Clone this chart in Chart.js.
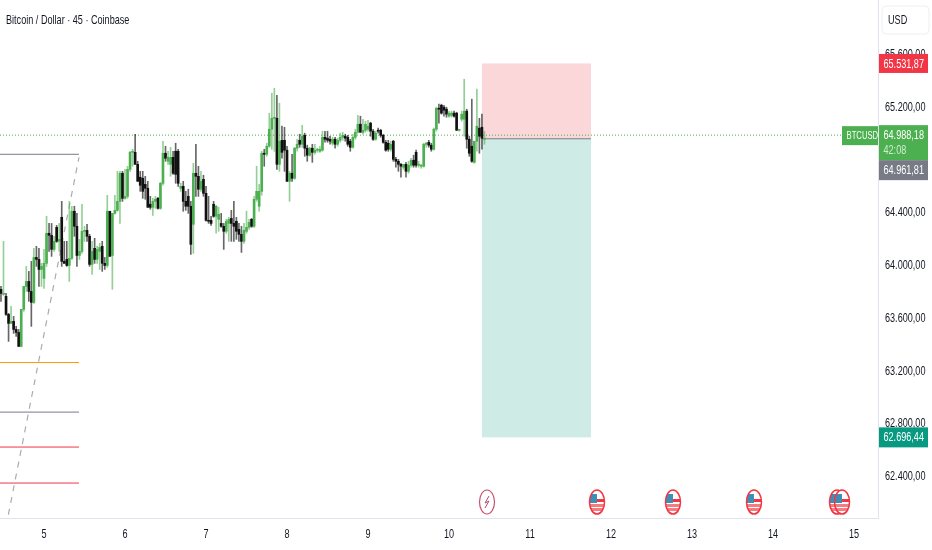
<!DOCTYPE html>
<html>
<head>
<meta charset="utf-8">
<title>BTCUSD</title>
<script src="https://cdn.jsdelivr.net/npm/chart.js@4"></script>
<style>
  html, body { margin: 0; padding: 0; background: #fff; }
  canvas { display: block; }
</style>
</head>
<body>
<canvas id="chart" width="932" height="550"></canvas>
<script>
const opens = [63819,63781,63766,63629,63561,63576,63515,63492,63386,63667,63841,63879,63803,63720,64061,64046,63970,63902,64016,64244,
  64228,64122,64289,64183,64365,64031,64046,64000,64054,64411,64297,64076,64107,64259,64266,64221,64008,64130,64046,64107,
  64145,64016,64000,64411,64076,64395,64418,64486,64699,64509,64524,64729,64858,64858,64767,64669,64661,64615,64585,64464,
  64441,64486,64509,64433,64623,64851,64790,64767,64820,64866,64866,64585,64600,64486,64524,64449,64312,64699,64676,64578,
  64653,64547,64342,64342,64464,64373,64350,64319,64297,64259,64319,64357,64319,64335,64274,64236,64183,64259,64289,64350,
  64297,64502,64449,64562,64851,64843,64904,65033,65116,65116,64767,64949,64949,64874,64638,64699,64661,64889,64949,64919,
  64987,64889,64836,64889,64858,64874,64866,64874,64972,64965,64957,64927,64957,64919,64949,64972,64980,64972,64942,64896,
  64972,65010,65071,65010,65025,65033,65079,65018,64957,65025,65025,64987,64934,64927,64881,64942,64805,64790,64767,64745,
  64767,64714,64760,64798,64858,64760,64752,64752,64919,64934,64912,64881,65033,65192,65215,65200,65185,65132,65139,65155,
  65155,65025,65109,65109,65170,64957,64904,64782,64942,65041,65048,64957];
const highs = [63841,64183,63788,63637,63690,63614,63538,63515,63667,63841,63993,63955,64031,64130,64145,64130,64016,64122,64373,64319,
  64319,64221,64304,64319,64486,64183,64183,64486,64449,64449,64395,64198,64464,64297,64312,64236,64183,64206,64145,64168,
  64183,64061,64532,64411,64395,64532,64714,64714,64714,64729,64752,64866,64881,64995,64790,64714,64714,64676,64638,64524,
  64509,64524,64517,64631,64942,64904,64866,64896,64866,64927,64881,64623,64638,64562,64578,64486,64775,64919,64752,64714,
  64684,64600,64524,64373,64486,64456,64441,64395,64319,64350,64365,64418,64486,64365,64319,64297,64319,64411,64350,64357,
  64524,64752,64615,64866,64881,64927,65155,65306,65344,65291,65230,65056,65048,64904,64714,64843,64896,64957,64995,65063,
  65003,64912,64896,64919,64919,64889,64904,65018,65018,65018,64980,64972,64972,64965,65003,65010,64995,64987,64957,64995,
  65033,65139,65132,65109,65094,65101,65086,65033,65018,65041,65033,64995,64949,64949,64942,64949,64820,64805,64775,64767,
  64782,64790,64813,64836,64874,64790,64767,64927,64934,64949,64927,65041,65200,65223,65223,65215,65200,65170,65170,65170,
  65162,65033,65170,65412,65185,64980,65261,64942,65337,65116,65147,65018];
const lows = [63728,63773,63622,63424,63561,63485,63462,63386,63386,63652,63803,63728,63538,63712,63993,63841,63841,63826,63993,64107,
  64069,64107,64175,64107,63993,64016,63993,63879,64046,64221,63993,64046,64092,64183,64183,63993,63932,64016,64016,63970,
  63955,63970,63985,64069,63819,64388,64411,64319,64486,64502,64509,64714,64752,64767,64638,64562,64509,64502,64441,64426,
  64380,64433,64426,64426,64608,64790,64767,64676,64691,64623,64600,64562,64411,64418,64395,64084,64092,64524,64524,64562,
  64524,64335,64319,64304,64365,64244,64259,64289,64122,64244,64183,64183,64183,64198,64183,64099,64168,64244,64274,64289,
  64289,64486,64411,64532,64752,64828,64896,64881,64866,64729,64714,64813,64714,64638,64486,64638,64653,64866,64896,64896,
  64828,64790,64828,64782,64843,64858,64858,64866,64934,64934,64919,64912,64889,64904,64934,64949,64942,64904,64866,64889,
  64957,65003,65010,64995,65010,65018,64980,64949,64949,65003,64972,64927,64866,64866,64866,64790,64745,64714,64669,64729,
  64669,64699,64745,64745,64745,64745,64737,64745,64896,64896,64866,64874,65018,65079,65147,65132,65124,65124,65124,65124,
  65025,65018,65094,64980,64889,64828,64782,64775,64866,64851,64881,64919];
const closes = [63788,63788,63629,63561,63576,63515,63492,63386,63667,63841,63879,63803,63720,64061,64046,63970,63993,64016,64244,64228,
  64122,64183,64183,64198,64031,64016,64000,64054,64411,64297,64076,64107,64259,64266,64221,64008,64107,64046,64122,64137,
  64016,64000,64411,64069,64395,64418,64486,64699,64509,64524,64729,64858,64858,64767,64638,64608,64562,64585,64441,64441,
  64486,64502,64433,64623,64851,64813,64820,64820,64699,64691,64623,64600,64486,64449,64449,64160,64699,64676,64578,64638,
  64547,64342,64335,64319,64373,64449,64388,64297,64259,64335,64350,64319,64297,64259,64236,64183,64266,64289,64327,64297,
  64502,64562,64562,64851,64843,64904,65033,65116,65116,64767,64942,64858,64874,64638,64699,64661,64889,64919,64919,64980,
  64889,64836,64889,64858,64874,64874,64881,64972,64957,64949,64942,64957,64919,64949,64972,64987,64965,64919,64896,64972,
  65010,65071,65010,65025,65071,65056,65018,64957,65003,65018,64987,64934,64874,64881,64919,64805,64790,64767,64752,64767,
  64714,64760,64798,64760,64760,64760,64760,64919,64927,64912,64881,65033,65192,65185,65155,65177,65147,65155,65155,65132,
  65025,65025,65147,65170,64957,64851,64790,64942,65056,64980,64965,64965];

const yTicks = [62400, 62800, 63200, 63600, 64000, 64400, 65200, 65600];
const dayTicks = [5, 6, 7, 8, 9, 10, 11, 12, 13, 14, 15];
const firstBarDay = 4.469;
const barsPerDay = 32;

const currentPrice = 64988.18;
const stopPrice = 65531.87;
const entryPrice = 64961.81;
const targetPrice = 62696.44;
const positionDays = [10.407, 11.753];

const levelPrices = [64843, 63264, 62888, 62623, 62350];
const levelColors = ['#787b86', '#ff9800', '#787b86', '#f23645', '#f23645'];
const levelEndDay = 5.432;
const fanDays = [4.56, 5.432];
const fanPrices = [62110, 64820];

const flagDays = [11.827, 12.765, 13.765, 14.79, 14.852];
const boltDay = 10.469;

const xMin = 4.457, xMax = 15.296;
const yMin = 62085, yMax = 66013;

const fontFamily = '"Liberation Sans", sans-serif';
const textSqueeze = 0.7;

const fmt = v => {
  const parts = v.toFixed(2).split('.');
  return parts[0].replace(/\B(?=(\d{3})+$)/g, '.') + ',' + parts[1];
};

const barDay = i => firstBarDay + i / barsPerDay;
const barColor = (i, alpha) => {
  if (closes[i] >= opens[i]) return alpha ? 'rgba(76,175,80,' + alpha + ')' : '#4caf50';
  return alpha ? 'rgba(0,0,0,' + alpha + ')' : '#111';
};

const wickData = highs.map((h, i) => ({ x: barDay(i), y: [lows[i], h] }));
const bodyData = opens.map((o, i) => ({ x: barDay(i), y: [Math.min(o, closes[i]), Math.max(o, closes[i])] }));

// horizontal level lines on the left
const levelSets = levelPrices.map((p, i) => ({
  type: 'line',
  data: [{ x: xMin, y: p }, { x: levelEndDay, y: p }],
  borderColor: levelColors[i],
  borderWidth: 1,
  pointRadius: 0,
  order: 5
}));

const data = {
  datasets: [
    {
      type: 'line',
      data: [{ x: xMin, y: currentPrice }, { x: xMax, y: currentPrice }],
      borderColor: '#4caf50',
      borderWidth: 1,
      borderDash: [1, 2],
      pointRadius: 0,
      order: 6
    },
    {
      type: 'line',
      data: fanDays.map((d, i) => ({ x: d, y: fanPrices[i] })),
      borderColor: '#a8abb3',
      borderWidth: 1.2,
      borderDash: [6, 6],
      pointRadius: 0,
      order: 5
    },
    ...levelSets,
    {
      type: 'bar',
      data: wickData,
      backgroundColor: highs.map((h, i) => barColor(i, 0.6)),
      barThickness: 1,
      borderWidth: 0,
      grouped: false,
      order: 2
    },
    {
      type: 'bar',
      data: bodyData,
      backgroundColor: highs.map((h, i) => barColor(i)),
      barThickness: 2,
      borderWidth: 0,
      minBarLength: 1,
      grouped: false,
      order: 1
    }
  ]
};

function tag(ctx, x, y, w, h, color, text) {
  ctx.fillStyle = color;
  ctx.fillRect(x, y, w, h);
  ctx.fillStyle = '#fff';
  ctx.textAlign = 'left';
  ctx.textBaseline = 'middle';
  ctx.fillText(text, x + 4.5, y + h / 2 + 0.5);
}

function drawFlag(ctx, cx, cy) {
  ctx.save();
  ctx.beginPath();
  ctx.ellipse(cx, cy, 7.5, 12, 0, 0, Math.PI * 2);
  ctx.fillStyle = '#fff';
  ctx.fill();
  ctx.save();
  ctx.clip();
  ctx.fillStyle = '#f77c80';
  ctx.fillRect(cx - 8, cy + 2, 16, 3);
  ctx.fillRect(cx - 8, cy + 6, 16, 3);
  ctx.fillStyle = '#f23645';
  ctx.fillRect(cx, cy - 3, 8, 3);
  ctx.fillStyle = '#3e8fb5';
  ctx.fillRect(cx - 8, cy - 8, 8, 9);
  ctx.restore();
  ctx.beginPath();
  ctx.ellipse(cx, cy, 7.5, 12, 0, 0, Math.PI * 2);
  ctx.strokeStyle = '#f23645';
  ctx.lineWidth = 1.5;
  ctx.stroke();
  ctx.restore();
}

function drawBolt(ctx, cx, cy) {
  ctx.save();
  ctx.beginPath();
  ctx.ellipse(cx, cy, 7.5, 12, 0, 0, Math.PI * 2);
  ctx.strokeStyle = '#c9506f';
  ctx.lineWidth = 1.2;
  ctx.stroke();
  ctx.beginPath();
  ctx.moveTo(cx + 2, cy - 6);
  ctx.lineTo(cx - 2, cy + 1);
  ctx.lineTo(cx + 2, cy - 1);
  ctx.lineTo(cx - 2, cy + 6);
  ctx.strokeStyle = '#b5476a';
  ctx.lineWidth = 1;
  ctx.stroke();
  ctx.restore();
}

// long/short box goes under the candles
const positionBox = {
  id: 'positionBox',
  beforeDatasetsDraw(chart) {
    const { ctx, scales: { x, y } } = chart;
    const left = x.getPixelForValue(positionDays[0]);
    const right = x.getPixelForValue(positionDays[1]);
    const top = y.getPixelForValue(stopPrice);
    const mid = y.getPixelForValue(entryPrice);
    const bottom = y.getPixelForValue(targetPrice);
    ctx.save();
    ctx.fillStyle = 'rgba(242,54,69,0.2)';
    ctx.fillRect(left, top, right - left, mid - top);
    ctx.fillStyle = 'rgba(8,153,129,0.2)';
    ctx.fillRect(left, mid, right - left, bottom - mid);
    ctx.fillStyle = '#8d8f96';
    ctx.fillRect(left, mid - 0.5, right - left, 1.2);
    ctx.restore();
  }
};

const overlays = {
  id: 'overlays',
  afterDraw(chart) {
    const { ctx, scales: { x, y }, chartArea } = chart;
    ctx.save();
    ctx.font = '13px ' + fontFamily;

    ctx.fillStyle = '#131722';
    ctx.textAlign = 'left';
    ctx.textBaseline = 'middle';
    ctx.fillText('Bitcoin / Dollar · 45 · Coinbase', 6, 20);

    const axisX = chartArea.right + 1;
    const tagW = 49;
    const cur = y.getPixelForValue(currentPrice);

    tag(ctx, axisX, y.getPixelForValue(stopPrice) - 9.5, tagW, 19, '#f23645', fmt(stopPrice));
    ctx.fillStyle = '#4caf50';
    ctx.fillRect(axisX, cur - 10, tagW, 35);
    ctx.fillStyle = '#fff';
    ctx.fillText(fmt(currentPrice), axisX + 4.5, cur + 0.5);
    ctx.fillStyle = 'rgba(255,255,255,0.75)';
    ctx.fillText('42:08', axisX + 4.5, cur + 15.5);
    tag(ctx, axisX, cur + 25, tagW, 20, '#787b86', fmt(entryPrice));
    tag(ctx, axisX, y.getPixelForValue(targetPrice) - 10, tagW, 20, '#089981', fmt(targetPrice));

    ctx.font = '11px ' + fontFamily;
    tag(ctx, 842, cur - 9, 36, 19, '#4caf50', 'BTCUSD');
    ctx.font = '13px ' + fontFamily;

    // currency button
    ctx.beginPath();
    ctx.roundRect(882, 6, 47, 28, 4);
    ctx.fillStyle = '#fff';
    ctx.fill();
    ctx.strokeStyle = '#eceef2';
    ctx.lineWidth = 1;
    ctx.stroke();
    ctx.fillStyle = '#131722';
    ctx.fillText('USD', 888, 20.5);

    const iconY = chartArea.bottom - 16;
    flagDays.forEach(d => drawFlag(ctx, x.getPixelForValue(d), iconY));
    drawBolt(ctx, x.getPixelForValue(boltDay), iconY);
    ctx.restore();
  }
};

const ctx = document.getElementById('chart').getContext('2d');

// the reference text is narrow, no condensed font here so squeeze it with maxWidth
const plainFillText = ctx.fillText.bind(ctx);
ctx.fillText = (text, x, y) => plainFillText(text, x, y, ctx.measureText(text).width * textSqueeze);

new Chart(ctx, {
  data,
  plugins: [positionBox, overlays],
  options: {
    responsive: false,
    animation: false,
    layout: { padding: 0, autoPadding: false },
    plugins: { legend: { display: false }, tooltip: { enabled: false } },
    scales: {
      x: {
        type: 'linear',
        offset: false,
        min: xMin,
        max: xMax,
        grid: { display: false, drawTicks: false },
        border: { display: true, color: '#e0e3eb', width: 1 },
        afterFit: scale => { scale.height = 32; },
        afterBuildTicks: scale => { scale.ticks = dayTicks.map(value => ({ value })); },
        ticks: {
          color: '#131722',
          font: { family: fontFamily, size: 13 },
          padding: 9,
          maxRotation: 0,
          autoSkip: false,
          callback: v => String(v)
        }
      },
      y: {
        position: 'right',
        min: yMin,
        max: yMax,
        grid: { display: false, drawTicks: false },
        border: { display: true, color: '#e0e3eb', width: 1 },
        afterFit: scale => { scale.width = 54; scale.paddingTop = 0; scale.paddingBottom = 0; },
        afterBuildTicks: scale => { scale.ticks = yTicks.map(value => ({ value })); },
        ticks: {
          color: '#131722',
          font: { family: fontFamily, size: 13 },
          padding: 7,
          autoSkip: false,
          callback: v => fmt(v)
        }
      }
    }
  }
});
</script>
</body>
</html>
